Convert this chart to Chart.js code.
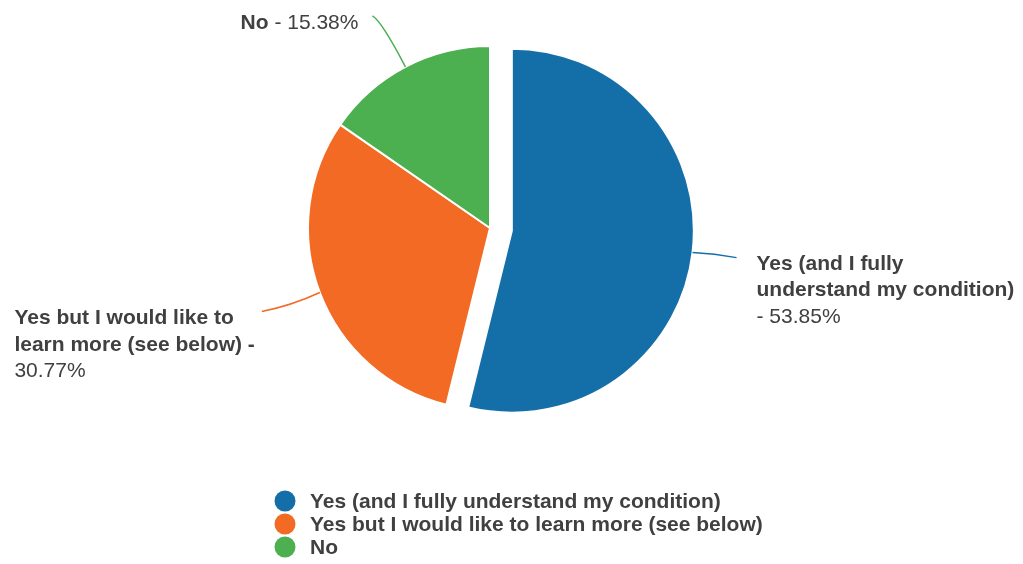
<!DOCTYPE html>
<html>
<head>
<meta charset="utf-8">
<script src="https://cdn.jsdelivr.net/npm/chart.js@4.4.1/dist/chart.umd.min.js"></script>
<style>
  html, body { margin: 0; padding: 0; background: #ffffff; }
  #wrap { width: 1023px; height: 564px; position: relative; }
</style>
</head>
<body>
<div id="wrap"><canvas id="c" width="1023" height="564"></canvas></div>
<script>
// ---- data ----
const categories = [
  "Yes (and I fully understand my condition)",
  "Yes but I would like to learn more (see below)",
  "No"
];
const values = [53.85, 30.77, 15.38];
const colors = ["#146fa9", "#f26a23", "#4caf50"];
// line breaks of the category names inside the slice labels
const labelBreaks = [
  ["Yes (and I fully", "understand my condition)"],
  ["Yes but I would like to", "learn more (see below)"],
  ["No"]
];

// ---- styles / layout ----
const FONT = "'Liberation Sans', Arial, sans-serif";
const FS = 21;
const LINE_H = 26.5;
const TXT = "#404040";
const explode = [22, 0, 0]; // px shift of each slice along its mid angle
// leader lines relative to start point on the slice edge: control, end
const leaders = [
  { c: [22, 1], e: [44, 5] },
  { c: [-28, 13], e: [-58, 19] },
  { c: [-24, -46], e: [-33, -51] }
];

function pct(v) { return v.toFixed(2) + "%"; }

function rowsFor(i) {
  const lines = labelBreaks[i];
  const p = pct(values[i]);
  if (i === 0) {
    return lines.map(l => [{ t: l, b: true }]).concat([[{ t: "- " + p, b: false }]]);
  } else if (i === 1) {
    const r = lines.map(l => [{ t: l, b: true }]);
    r[r.length - 1].push({ t: " -", b: true });
    r.push([{ t: p, b: false }]);
    return r;
  }
  return [[{ t: lines[0], b: true }, { t: " - " + p, b: false }]];
}

function setFont(ctx, bold) { ctx.font = (bold ? "bold " : "") + FS + "px " + FONT; }
function rowWidth(ctx, row) {
  let w = 0;
  row.forEach(s => { setFont(ctx, s.b); w += ctx.measureText(s.t).width; });
  return w;
}
function drawRow(ctx, row, x, y) {
  row.forEach(s => {
    setFont(ctx, s.b);
    ctx.fillText(s.t, x, y);
    x += ctx.measureText(s.t).width;
  });
}

const explodePlugin = {
  id: "explodeSlices",
  beforeDatasetDraw(chart, args) {
    const ctx = chart.ctx;
    const meta = args.meta;
    meta.data.forEach((arc, i) => {
      const p = arc.getProps(["startAngle", "endAngle"], true);
      const mid = (p.startAngle + p.endAngle) / 2;
      const d = explode[i] || 0;
      ctx.save();
      ctx.translate(Math.cos(mid) * d, Math.sin(mid) * d);
      arc.draw(ctx, chart.chartArea);
      ctx.restore();
    });
    return false;
  }
};

const labelPlugin = {
  id: "sliceLabels",
  afterDatasetsDraw(chart) {
    const ctx = chart.ctx;
    const meta = chart.getDatasetMeta(0);
    ctx.save();
    ctx.textBaseline = "alphabetic";
    ctx.textAlign = "left";
    meta.data.forEach((arc, i) => {
      const p = arc.getProps(["x", "y", "startAngle", "endAngle", "outerRadius"], true);
      const mid = (p.startAngle + p.endAngle) / 2;
      const d = explode[i] || 0;
      const sx = p.x + Math.cos(mid) * (p.outerRadius + d);
      const sy = p.y + Math.sin(mid) * (p.outerRadius + d);
      const L = leaders[i];
      const ex = sx + L.e[0], ey = sy + L.e[1];
      ctx.beginPath();
      ctx.moveTo(sx, sy);
      ctx.quadraticCurveTo(sx + L.c[0], sy + L.c[1], ex, ey);
      ctx.strokeStyle = colors[i];
      ctx.lineWidth = 1.5;
      ctx.stroke();

      const rows = rowsFor(i);
      ctx.fillStyle = TXT;
      if (i === 0) {
        rows.forEach((row, k) => drawRow(ctx, row, ex + 20, ey + 12 + k * LINE_H));
      } else if (i === 1) {
        const mw = Math.max(...rows.map(rw => rowWidth(ctx, rw)));
        const left = ex - 7 - mw;
        rows.forEach((row, k) => drawRow(ctx, row, left, ey + 13 + k * LINE_H));
      } else {
        const w = rowWidth(ctx, rows[0]);
        drawRow(ctx, rows[0], ex - 14 - w, ey + 13);
      }
    });
    ctx.restore();

    // legend
    ctx.save();
    const lx = 285, ly = 501, lgap = 23;
    categories.forEach((c, i) => {
      const y = ly + i * lgap;
      ctx.beginPath();
      ctx.arc(lx, y, 10.5, 0, Math.PI * 2);
      ctx.fillStyle = colors[i];
      ctx.fill();
      ctx.fillStyle = TXT;
      ctx.textBaseline = "middle";
      setFont(ctx, true);
      ctx.fillText(c, lx + 25, y + 1);
    });
    ctx.restore();
  }
};

new Chart(document.getElementById("c"), {
  type: "pie",
  data: {
    labels: categories,
    datasets: [{
      data: values,
      backgroundColor: colors,
      borderColor: "#ffffff",
      borderWidth: 2,
      radius: 182
    }]
  },
  options: {
    responsive: false,
    animation: false,
    layout: { padding: { left: 0, right: 43, top: 28, bottom: 136 } },
    plugins: {
      legend: { display: false },
      tooltip: { enabled: false },
      title: { display: false }
    }
  },
  plugins: [explodePlugin, labelPlugin]
});
</script>
</body>
</html>
